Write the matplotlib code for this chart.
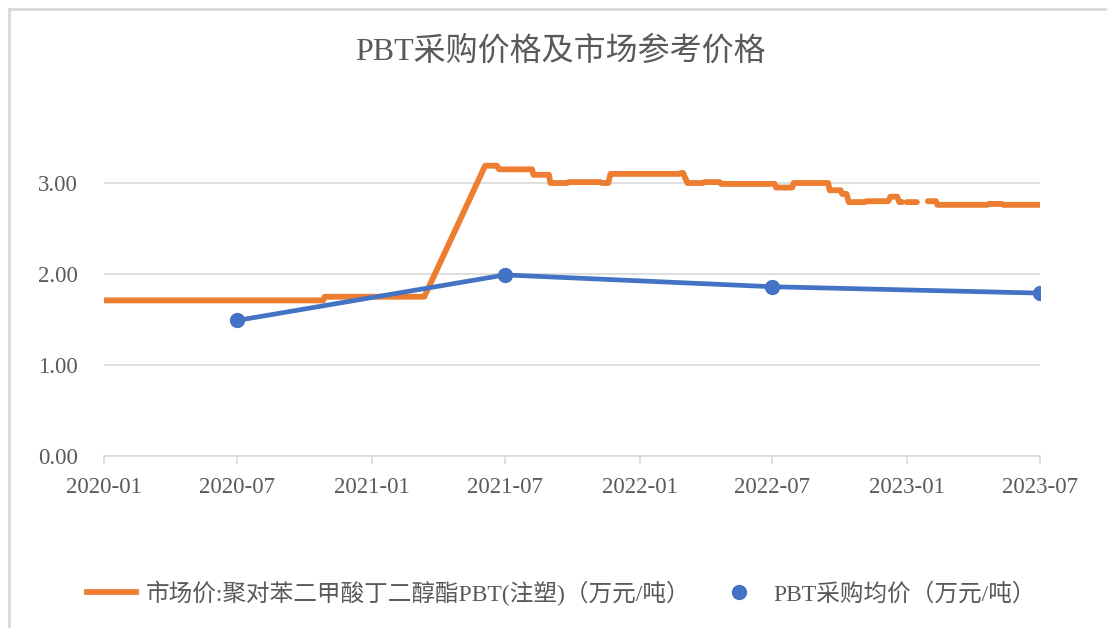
import numpy as np
import pandas as pd
import matplotlib
matplotlib.use("Agg")
import matplotlib.pyplot as plt
import matplotlib.dates as mdates
from matplotlib.patches import Rectangle
from matplotlib.lines import Line2D

# ---- data ----
market_dates = [
    "2020-01-01", "2020-10-26", "2020-10-28", "2021-03-13",
    "2021-06-04", "2021-06-20", "2021-06-23", "2021-08-07",
    "2021-08-09", "2021-08-30", "2021-09-01", "2021-09-24",
    "2021-09-26", "2021-11-08", "2021-11-10", "2021-11-19",
    "2021-11-22", "2022-02-24", "2022-02-26", "2022-03-01",
    "2022-03-07", "2022-03-28", "2022-03-30", "2022-04-20",
    "2022-04-22", "2022-07-04", "2022-07-06", "2022-07-28",
    "2022-07-30", "2022-09-15", "2022-09-17", "2022-10-02",
    "2022-10-04", "2022-10-10", "2022-10-13", "2022-11-04",
    "2022-11-06", "2022-12-06", "2022-12-09", "2022-12-18",
    "2022-12-21", "2022-12-25", "2022-12-27", "2022-12-31",
    "2023-01-14", "2023-01-22", "2023-01-29", "2023-02-09",
    "2023-02-11", "2023-04-20", "2023-04-22", "2023-05-10",
    "2023-05-12", "2023-07-01",
]
market_values = [
    1.71, 1.71, 1.75, 1.75,
    3.19, 3.19, 3.15, 3.15,
    3.09, 3.09, 3.00, 3.00,
    3.01, 3.01, 3.00, 3.00,
    3.10, 3.10, 3.11, 3.11,
    3.00, 3.00, 3.01, 3.01,
    2.99, 2.99, 2.95, 2.95,
    3.00, 3.00, 2.92, 2.92,
    2.88, 2.88, 2.79, 2.79,
    2.80, 2.80, 2.85, 2.85,
    2.79, 2.79, np.nan, 2.79,
    2.79, np.nan, 2.80, 2.80,
    2.76, 2.76, 2.77, 2.77,
    2.76, 2.76,
]
purchase_dates = ["2020-07-01", "2021-07-01", "2022-07-01", "2023-07-01"]
purchase_values = [1.49, 1.99, 1.86, 1.79]

tick_dates = ["2020-01-01", "2020-07-01", "2021-01-01", "2021-07-01",
              "2022-01-01", "2022-07-01", "2023-01-01", "2023-07-01"]
y_ticks = [0, 1, 2, 3]

title = "PBT采购价格及市场参考价格"
label_market = "市场价:聚对苯二甲酸丁二醇酯PBT(注塑)（万元/吨）"
label_purchase = "PBT采购均价（万元/吨）"

ORANGE = "#ED7D31"
BLUE = "#4472C4"
GRID = "#D9D9D9"
TXT = "#595959"
FONT = ["Liberation Serif", "Noto Sans CJK SC", "DejaVu Sans"]

plt.rcParams["font.family"] = FONT

fig = plt.figure(figsize=(11.07, 6.28), dpi=100)
ax = fig.add_axes([104 / 1107, 1 - 456 / 628, (1040 - 104) / 1107, (456 - 137.5) / 628])

md = pd.to_datetime(market_dates)
pdts = pd.to_datetime(purchase_dates)

ax.plot(md, market_values, color=ORANGE, lw=4.2, solid_capstyle="round",
        solid_joinstyle="round", zorder=3)
ax.plot(pdts, purchase_values, color=BLUE, lw=3.4, zorder=4)
ax.plot(pdts, purchase_values, color=BLUE, lw=0, marker="o", markersize=10,
        markeredgecolor=BLUE, zorder=5)

ax.set_xlim(pd.Timestamp(tick_dates[0]), pd.Timestamp(tick_dates[-1]))
ax.set_ylim(0, 3.5)
ax.set_xticks(pd.to_datetime(tick_dates))
ax.xaxis.set_major_formatter(mdates.DateFormatter("%Y-%m"))
ax.set_yticks(y_ticks)
ax.yaxis.set_major_formatter(matplotlib.ticker.FormatStrFormatter("%.2f"))
ax.grid(axis="y", color=GRID, lw=1.2, zorder=0)
ax.set_axisbelow(True)
for s in ["top", "right", "left"]:
    ax.spines[s].set_visible(False)
ax.spines["bottom"].set_color(GRID)
ax.spines["bottom"].set_linewidth(1.2)
ax.tick_params(axis="x", length=6, color=GRID, width=1.2, pad=9,
               labelsize=16.5, labelcolor=TXT)
ax.tick_params(axis="y", length=0, pad=19, labelsize=16.5, labelcolor=TXT)

fig.text(0.506, 1 - 51 / 628, title, ha="center", va="center", fontsize=23,
         color=TXT)

handles = [
    Line2D([], [], color=ORANGE, lw=4.2),
    Line2D([], [], color=BLUE, lw=0, marker="o", markersize=10),
]
fig.legend(handles, [label_market, label_purchase], loc="center",
           bbox_to_anchor=(0.507, 1 - 593 / 628), ncol=2, frameon=False,
           fontsize=17, labelcolor=TXT, columnspacing=1.0, handlelength=2.1,
           handletextpad=0.4)

fig.add_artist(Rectangle((9 / 1107, -0.5), 2.0, 0.5 + (1 - 9 / 628),
                         transform=fig.transFigure, fill=False,
                         edgecolor=GRID, lw=2))

fig.savefig("out.png", dpi=100, facecolor="white")
